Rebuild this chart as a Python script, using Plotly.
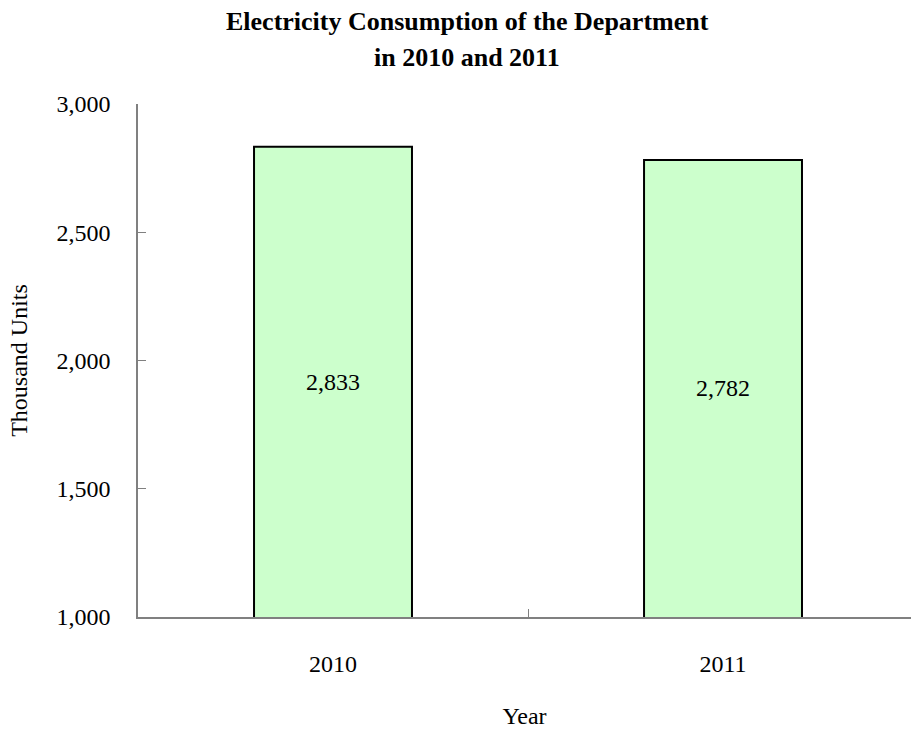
import plotly.graph_objects as go

years = ["2010", "2011"]
consumption = [2833, 2782]
y_ticks = [1000, 1500, 2000, 2500, 3000]
y_min, y_max = 1000, 3000

FONT = "Liberation Serif"
W, H = 911, 729
L, R, T, B = 138, 0, 104, 112
PW, PH = W - L - R, H - T - B


def px_to_paper_x(px):
    return (px - L) / PW


def px_to_paper_y(py):
    return (H - B - py) / PH


fig = go.Figure(
    go.Bar(
        x=years,
        y=consumption,
        width=0.405,
        marker=dict(color="#CCFFCC", line=dict(color="black", width=2)),
        hoverinfo="x+y",
    )
)

# value labels centred in the visible part of each bar
for i, v in enumerate(consumption):
    fig.add_annotation(
        x=i, y=(y_min + v) / 2, xref="x", yref="y",
        text=f"{v:,}", showarrow=False,
        font=dict(family=FONT, size=24, color="black"),
    )

# title lines
for text, py in [("<b>Electricity Consumption of the Department</b>", 21),
                 ("<b>in 2010 and 2011</b>", 58)]:
    fig.add_annotation(
        x=px_to_paper_x(467), y=px_to_paper_y(py), xref="paper", yref="paper",
        text=text, showarrow=False, xanchor="center", yanchor="middle",
        font=dict(family=FONT, size=26, color="black"),
    )

fig.update_layout(
    width=W,
    height=H,
    margin=dict(l=L, r=R, t=T, b=B, autoexpand=False),
    paper_bgcolor="white",
    plot_bgcolor="white",
    showlegend=False,
    font=dict(family=FONT, size=24, color="black"),
)

fig.update_xaxes(
    type="category",
    range=[-0.5, 1.482],
    showline=True,
    linecolor="#808080",
    linewidth=1.5,
    ticks="inside",
    tickson="boundaries",
    ticklen=8,
    tickcolor="#808080",
    showgrid=False,
    automargin=False,
    ticklabelstandoff=24,
    title=dict(text="Year", standoff=36, font=dict(family=FONT, size=24)),
)

fig.update_yaxes(
    range=[y_min, y_max],
    tickvals=y_ticks,
    tickformat=",",
    showline=True,
    linecolor="#808080",
    linewidth=1.5,
    ticks="inside",
    ticklen=8,
    tickcolor="#808080",
    showgrid=False,
    zeroline=False,
    automargin=False,
    ticklabelstandoff=21,
    title=dict(text="Thousand Units", standoff=22, font=dict(family=FONT, size=24)),
)

fig.write_html(
    "out.html",
    config={"displayModeBar": False},
    post_script="document.body.style.margin='0';document.body.style.overflow='hidden';",
)
